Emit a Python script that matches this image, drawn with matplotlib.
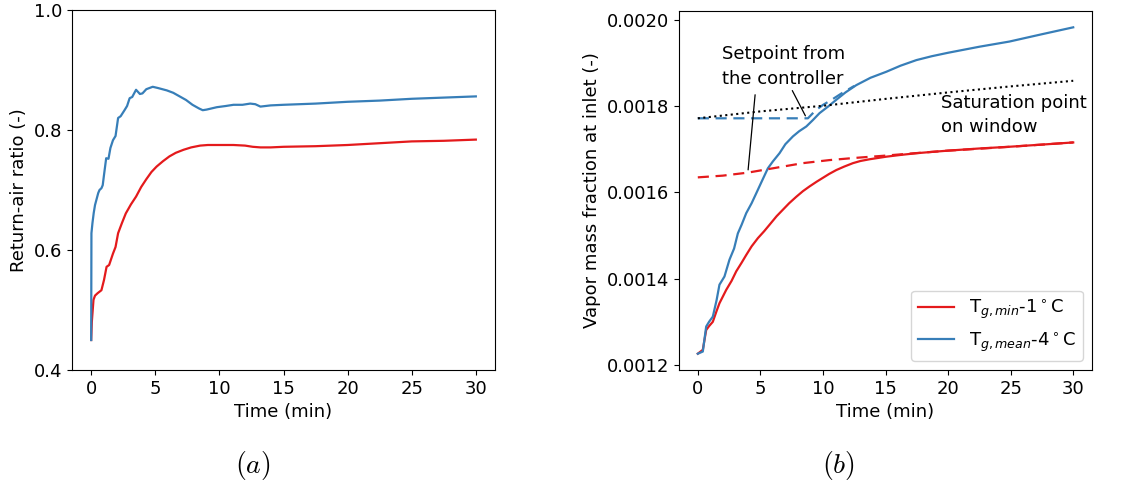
import matplotlib
matplotlib.use("Agg")
import matplotlib.pyplot as plt

plt.rcParams["mathtext.fontset"] = "dejavusans"

RED = "#e41a1c"
BLUE = "#377eb8"

# ---- (a) return-air ratio ----
t_ra_blue = [0.0, 0.02, 0.1, 0.2, 0.3, 0.4, 0.55, 0.65, 0.8, 0.9, 1.0, 1.17, 1.35, 1.5, 1.7,
             1.9, 2.1, 2.3, 2.6, 2.8, 3.0, 3.2, 3.5, 3.8, 4.0, 4.3, 4.8, 5.2, 5.9, 6.4,
             6.9, 7.4, 7.9, 8.4, 8.7, 9.0, 9.8, 10.5, 11.1, 11.8, 12.4, 12.8, 13.2, 14.0,
             15.0, 17.5, 20.0, 22.5, 25.0, 27.5, 30.0]
ra_blue = [0.450, 0.628, 0.645, 0.662, 0.675, 0.683, 0.695, 0.700, 0.703, 0.708, 0.725, 0.753,
           0.752, 0.770, 0.783, 0.790, 0.820, 0.823, 0.833, 0.840, 0.853, 0.855, 0.867,
           0.860, 0.861, 0.868, 0.872, 0.870, 0.866, 0.862, 0.856, 0.850, 0.842, 0.836,
           0.833, 0.834, 0.838, 0.840, 0.842, 0.842, 0.844, 0.843, 0.839, 0.841, 0.842,
           0.844, 0.847, 0.849, 0.852, 0.854, 0.856]

t_ra_red = [0.0, 0.05, 0.18, 0.3, 0.5, 0.8, 1.0, 1.2, 1.4, 1.7, 1.9, 2.1, 2.4, 2.7, 3.1, 3.5,
            3.9, 4.3, 4.7, 5.1, 5.6, 6.1, 6.6, 7.2, 7.8, 8.5, 9.1, 9.8, 10.5, 11.1, 12.0,
            12.6, 13.2, 14.0, 15.0, 17.5, 20.0, 22.5, 25.0, 27.5, 30.0]
ra_red = [0.450, 0.480, 0.517, 0.524, 0.528, 0.533, 0.550, 0.572, 0.575, 0.594, 0.605, 0.628,
          0.645, 0.661, 0.676, 0.689, 0.705, 0.718, 0.730, 0.739, 0.748, 0.756, 0.762,
          0.767, 0.771, 0.774, 0.775, 0.775, 0.775, 0.775, 0.774, 0.772, 0.771, 0.771,
          0.772, 0.773, 0.775, 0.778, 0.781, 0.782, 0.784]

# ---- (b) vapor mass fraction at inlet ----
t_vm_blue = [0.0, 0.4, 0.67, 0.9, 1.2, 1.5, 1.73, 2.13, 2.53, 2.9, 3.2, 3.5, 3.87, 4.3, 4.67,
             5.1, 5.6, 6.0, 6.53, 7.0, 7.6, 8.1, 8.67, 9.2, 9.73, 10.4, 11.07, 11.8, 12.67,
             13.8, 15.07, 16.2, 17.47, 18.7, 20.0, 22.5, 24.9, 27.5, 30.0]
vm_blue = [0.001226, 0.001231, 0.001289, 0.001300, 0.001312, 0.001350, 0.001386, 0.001405,
           0.001444, 0.001470, 0.001505, 0.001525, 0.001552, 0.001575, 0.001598, 0.001625,
           0.001656, 0.001672, 0.001691, 0.001712, 0.001730, 0.001742, 0.001753, 0.001768,
           0.001784, 0.001799, 0.001815, 0.001832, 0.001849, 0.001866, 0.001880, 0.001894,
           0.001907, 0.001916, 0.001924, 0.001938, 0.001950, 0.001967, 0.001983]

t_vm_red = [0.0, 0.4, 0.67, 0.9, 1.2, 1.5, 1.73, 2.27, 2.7, 3.07, 3.5, 3.87, 4.3, 4.8, 5.3,
            5.73, 6.3, 6.8, 7.3, 7.87, 8.4, 8.93, 9.5, 10.0, 10.5, 11.07, 11.7, 12.4, 13.0,
            13.73, 15.07, 16.2, 17.47, 18.7, 20.0, 22.5, 24.9, 27.5, 30.0]
vm_red = [0.001226, 0.001235, 0.001281, 0.001290, 0.001300, 0.001325, 0.001343, 0.001374,
          0.001395, 0.001417, 0.001437, 0.001455, 0.001475, 0.001494, 0.001510, 0.001525,
          0.001545, 0.001560, 0.001575, 0.001590, 0.001603, 0.001614, 0.001625, 0.001634,
          0.001643, 0.001652, 0.001660, 0.001668, 0.001673, 0.001677, 0.001683, 0.001687,
          0.001691, 0.001694, 0.001697, 0.001702, 0.001706, 0.001711, 0.001716]

# controller setpoints (dashed)
t_sp_red = [0.0, 2.0, 4.0, 6.0, 8.4, 10.5, 12.5, 14.8, 16.9, 20.0, 25.0, 30.0]
sp_red = [0.001635, 0.001639, 0.001646, 0.001656, 0.001668, 0.001675, 0.001680, 0.001685,
          0.001690, 0.001697, 0.001706, 0.001716]
t_sp_blue = [0.0, 4.0, 8.8, 9.4, 10.0, 10.7, 11.5, 12.5]
sp_blue = [0.001772, 0.001772, 0.001772, 0.001790, 0.001803, 0.001815, 0.001830, 0.001847]

# saturation point on window (dotted)
t_sat = [0.0, 5.0, 10.0, 15.0, 20.0, 25.0, 30.0]
sat = [0.001772, 0.001788, 0.001801, 0.001817, 0.001832, 0.001846, 0.001859]

labels = [r"T$_{g,min}$-1$^\circ$C", r"T$_{g,mean}$-4$^\circ$C"]

FS = 13
fig = plt.figure(figsize=(11.42, 4.87), dpi=100)
axa = fig.add_axes([0.063, 0.2402, 0.3705, 0.7393])
axb = fig.add_axes([0.5946, 0.2402, 0.3616, 0.7372])

axa.plot(t_ra_red, ra_red, color=RED, lw=1.6)
axa.plot(t_ra_blue, ra_blue, color=BLUE, lw=1.6)
axa.set_ylim(0.4, 1.0)
axa.set_yticks([0.4, 0.6, 0.8, 1.0])
axa.set_xticks([0, 5, 10, 15, 20, 25, 30])
axa.set_xlabel("Time (min)", fontsize=FS)
axa.set_ylabel("Return-air ratio (-)", fontsize=FS)
axa.tick_params(labelsize=FS)

axb.plot(t_vm_red, vm_red, color=RED, lw=1.6, label=labels[0])
axb.plot(t_vm_blue, vm_blue, color=BLUE, lw=1.6, label=labels[1])
axb.plot(t_sp_red, sp_red, color=RED, lw=1.6, ls=(0, (5, 3)))
axb.plot(t_sp_blue, sp_blue, color=BLUE, lw=1.6, ls=(0, (5, 3)))
axb.plot(t_sat, sat, color="black", lw=1.5, ls=":")
axb.set_xticks([0, 5, 10, 15, 20, 25, 30])
axb.set_yticks([0.0012, 0.0014, 0.0016, 0.0018, 0.0020])
axb.set_yticklabels(["0.0012", "0.0014", "0.0016", "0.0018", "0.0020"])
axb.set_xlabel("Time (min)", fontsize=FS)
axb.set_ylabel("Vapor mass fraction at inlet (-)", fontsize=FS)
axb.tick_params(labelsize=FS)
axb.legend(loc="lower right", fontsize=FS, handlelength=2.0)

axb.text(1.9, 0.001892, "Setpoint from\nthe controller", fontsize=FS,
         ha="left", va="center", linespacing=1.45)
axb.text(19.4, 0.001779, "Saturation point\non window", fontsize=FS,
         ha="left", va="center", linespacing=1.45)
axb.annotate("", xy=(4.0, 0.001646), xytext=(4.6, 0.001833),
             arrowprops=dict(arrowstyle="-", color="black", lw=0.9))
axb.annotate("", xy=(8.7, 0.001772), xytext=(7.45, 0.001842),
             arrowprops=dict(arrowstyle="-", color="black", lw=0.9))

fig.text(0.2215, 0.045, r"$(a)$", fontsize=20, ha="center", va="center",
         math_fontfamily="cm")
fig.text(0.734, 0.045, r"$(b)$", fontsize=20, ha="center", va="center",
         math_fontfamily="cm")

fig.savefig("out.png", dpi=100)
